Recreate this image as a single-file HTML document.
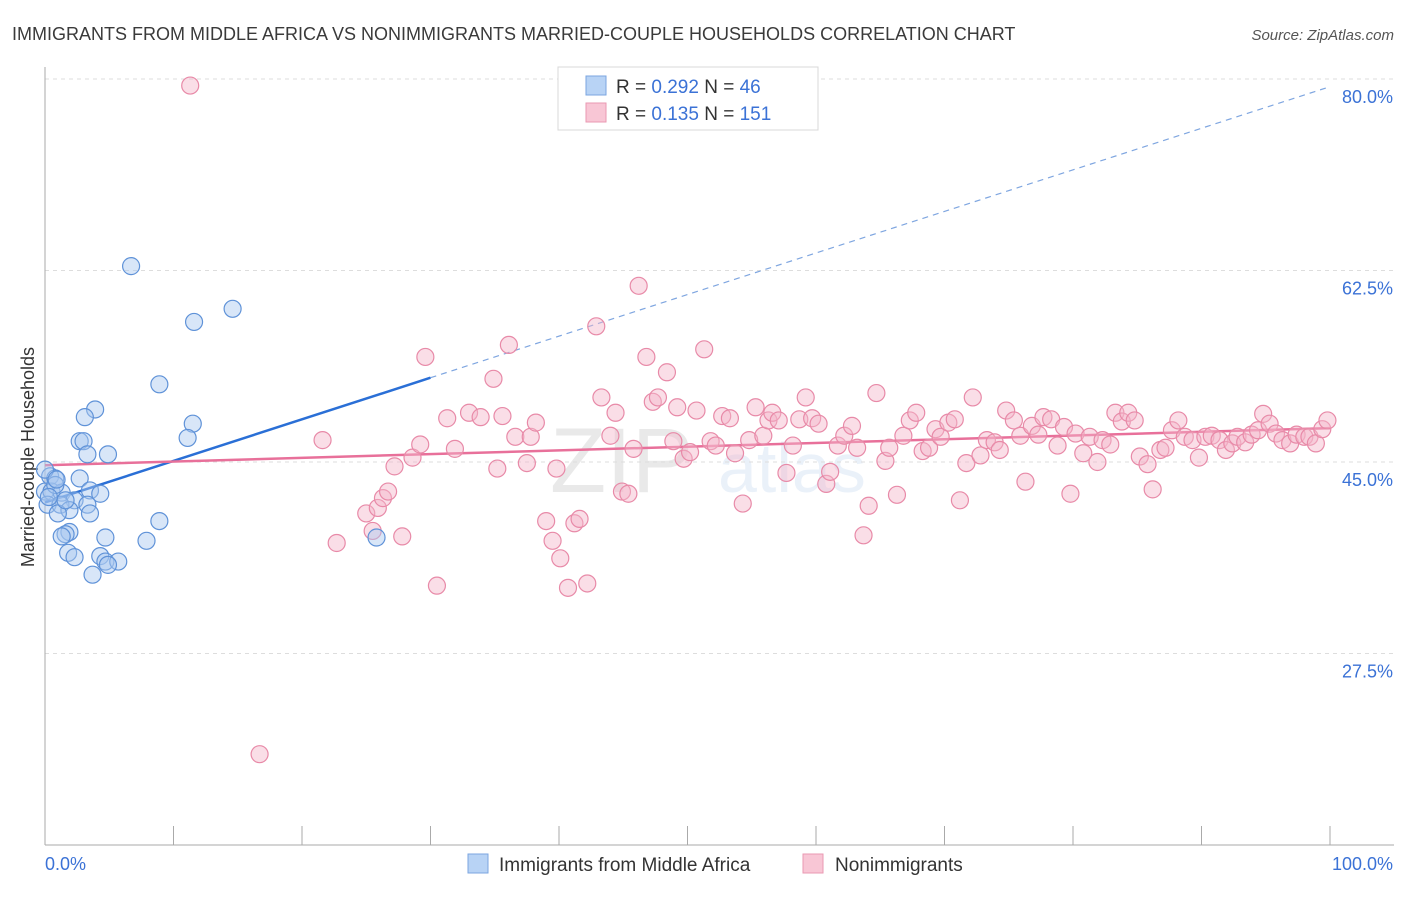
<!DOCTYPE html>
<html><head><meta charset="utf-8"><style>
body{margin:0;background:#fff;font-family:"Liberation Sans",sans-serif;}
svg text{font-family:"Liberation Sans",sans-serif;}
</style></head><body>
<svg id="chart" width="1406" height="892" viewBox="0 0 1406 892" xmlns="http://www.w3.org/2000/svg">
<text x="12" y="40" font-size="18" fill="#3a3a3a">IMMIGRANTS FROM MIDDLE AFRICA VS NONIMMIGRANTS MARRIED-COUPLE HOUSEHOLDS CORRELATION CHART</text>
<text x="1394" y="40" font-size="15" fill="#555" text-anchor="end" font-style="italic">Source: ZipAtlas.com</text>
<text transform="translate(34,457) rotate(-90)" font-size="18" fill="#333" text-anchor="middle">Married-couple Households</text>
<g opacity="0.12"><text x="550" y="492" font-size="92" font-family="Liberation Serif" fill="#555">ZIP</text><text x="718" y="492" font-size="70" fill="#5b8fd6">atlas</text></g>
<g id="grid"></g>
<g id="axes"></g>
<g id="trend"></g>
<g id="pts"></g>
<g>
<rect x="558" y="67" width="260" height="63" fill="#fff" stroke="#d8d8d8"/>
<rect x="586" y="76" width="20" height="19" fill="#b8d3f5" stroke="#7ba6e0"/>
<rect x="586" y="103" width="20" height="19" fill="#f8c6d5" stroke="#ea98b2"/>
<text x="616" y="93" font-size="19" fill="#333">R = <tspan fill="#3b72d6">0.292</tspan>   N = <tspan fill="#3b72d6"> 46</tspan></text>
<text x="616" y="120" font-size="19" fill="#333">R = <tspan fill="#3b72d6"> 0.135</tspan>   N = <tspan fill="#3b72d6">151</tspan></text>
</g>
<g>
<rect x="468" y="854" width="20" height="19" fill="#b8d3f5" stroke="#7ba6e0"/>
<text x="499" y="871" font-size="19" fill="#333">Immigrants from Middle Africa</text>
<rect x="803" y="854" width="20" height="19" fill="#f8c6d5" stroke="#ea98b2"/>
<text x="835" y="871" font-size="19" fill="#333">Nonimmigrants</text>
</g>
</svg>
<script>
const yTicks=[80,62.5,45,27.5];
const yTickLabels=["80.0%","62.5%","45.0%","27.5%"];
const xEndLabels=["0.0%","100.0%"];
const blueX=[6.7,11.6,14.6,8.9,3.9,3.1,11.5,11.1,2.7,3.0,4.9,3.3,0.4,0.8,2.7,3.5,4.3,0,0.5,1.3,2.3,3.3,0.2,1.2,1.9,3.5,1.0,8.9,1.9,1.6,1.3,4.7,7.9,25.8,1.8,2.3,4.3,4.7,5.7,4.9,3.7,0,0.8,1.6,0.9,0.3];
const blueY=[62.9,57.8,59.0,52.1,49.8,49.1,48.5,47.2,46.9,46.9,45.7,45.7,43.7,43.5,43.5,42.4,42.1,42.3,42.3,42.2,41.5,41.1,41.1,41.1,40.6,40.3,40.3,39.6,38.6,38.4,38.2,38.1,37.8,38.1,36.7,36.3,36.4,35.9,35.9,35.6,34.7,44.3,42.9,41.5,43.4,41.8];
const pinkX=[11.3,16.7,21.6,22.7,25.0,25.5,25.9,26.3,26.7,27.2,27.8,28.6,29.2,29.6,30.5,31.3,31.9,33.0,33.9,34.9,35.2,35.6,36.1,36.6,37.5,37.8,38.2,39.0,39.5,39.8,40.1,40.7,41.2,41.6,42.2,42.9,43.3,44.0,44.4,44.9,45.4,45.8,46.2,46.8,47.3,47.7,48.4,48.9,49.2,49.7,50.2,50.7,51.3,51.8,52.2,52.7,53.3,53.7,54.3,54.8,55.3,55.9,56.3,56.6,57.1,57.7,58.2,58.7,59.2,59.7,60.2,60.8,61.1,61.7,62.2,62.8,63.2,63.7,64.1,64.7,65.4,65.7,66.3,66.8,67.3,67.8,68.3,68.8,69.3,69.7,70.3,70.8,71.2,71.7,72.2,72.8,73.3,73.9,74.3,74.8,75.4,75.9,76.3,76.8,77.3,77.7,78.3,78.8,79.3,79.8,80.2,80.8,81.3,81.9,82.3,82.9,83.3,83.8,84.3,84.8,85.2,85.8,86.2,86.8,87.2,87.7,88.2,88.7,89.3,89.8,90.3,90.8,91.4,91.9,92.4,92.8,93.4,93.9,94.4,94.8,95.3,95.8,96.3,96.9,97.4,98.0,98.4,98.9,99.4,99.8];
const pinkY=[79.4,18.3,47.0,37.6,40.3,38.7,40.8,41.7,42.3,44.6,38.2,45.4,46.6,54.6,33.7,49.0,46.2,49.5,49.1,52.6,44.4,49.2,55.7,47.3,44.9,47.3,48.6,39.6,37.8,44.4,36.2,33.5,39.4,39.8,33.9,57.4,50.9,47.4,49.5,42.3,42.1,46.2,61.1,54.6,50.5,50.9,53.2,46.9,50.0,45.3,45.9,49.7,55.3,46.9,46.5,49.2,49.0,45.8,41.2,47.0,50.0,47.4,48.8,49.5,48.8,44.0,46.5,48.9,50.9,49.0,48.5,43.0,44.1,46.5,47.4,48.3,46.3,38.3,41.0,51.3,45.1,46.3,42.0,47.4,48.8,49.5,46.0,46.3,48.0,47.3,48.6,48.9,41.5,44.9,50.9,45.6,47.0,46.8,46.1,49.7,48.8,47.4,43.2,48.3,47.5,49.1,48.9,46.5,48.2,42.1,47.6,45.8,47.3,45.0,47.0,46.6,49.5,48.7,49.5,48.8,45.5,44.8,42.5,46.1,46.3,47.9,48.8,47.3,47.0,45.4,47.3,47.4,47.0,46.1,46.7,47.3,46.8,47.5,47.9,49.4,48.5,47.6,47.0,46.7,47.5,47.3,47.3,46.7,48.0,48.8];
const blueTrend=[41.3,0.38];   // intercept, slope
const blueSolidEnd=30;
const pinkTrend=[44.7,0.034];
const NS="http://www.w3.org/2000/svg";
const X0=45,X1=1330,Ytop=79,Ybase=462;
function sx(v){return X0+(X1-X0)*v/100;}
function sy(v){return Ybase-(v-45)*(Ybase-Ytop)/35;}
function mk(tag,attrs,parent){const e=document.createElementNS(NS,tag);for(const k in attrs)e.setAttribute(k,attrs[k]);parent.appendChild(e);return e;}
const grid=document.getElementById('grid'),axes=document.getElementById('axes'),trend=document.getElementById('trend'),pts=document.getElementById('pts');
yTicks.forEach((t,i)=>{
 const l=mk('line',{x1:X0,x2:1394,y1:sy(t),y2:sy(t),stroke:'#ddd','stroke-dasharray':'4,4'},grid);
 
 
 const tx=mk('text',{x:1393,y:sy(t)+24,'text-anchor':'end','font-size':18,fill:'#3b72d6'},axes);
 tx.textContent=yTickLabels[i];
 
 
});
const ax=mk('line',{x1:X0,x2:1394,y1:845,y2:845,stroke:'#aaa'},axes);


const ay=mk('line',{x1:X0,x2:X0,y1:67,y2:845,stroke:'#aaa'},axes);


for(let i=0;i<=10;i++){
 const t=mk('line',{x1:sx(i*10),x2:sx(i*10),y1:826,y2:845,stroke:'#aaa'},axes);
 
 
}
const xl=mk('text',{x:45,y:870,'font-size':18,fill:'#3b72d6'},axes);xl.textContent=xEndLabels[0];


const xr=mk('text',{x:1393,y:870,'font-size':18,fill:'#3b72d6','text-anchor':'end'},axes);xr.textContent=xEndLabels[1];


function drawPts(xs,ys,fill,stroke,name){xs.forEach((x,i)=>{
 const c=mk('circle',{cx:sx(x),cy:sy(ys[i]),r:8.5,fill:fill,'fill-opacity':0.45,stroke:stroke,'stroke-width':1.2},pts);
 
 
});}
drawPts(pinkX,pinkY,'#f5b6c9','#e88aa8','pink-point');
drawPts(blueX,blueY,'#a9c8f0','#5f92d8','blue-point');
const bl=mk('line',{x1:sx(0),y1:sy(blueTrend[0]),x2:sx(blueSolidEnd),y2:sy(blueTrend[0]+blueTrend[1]*blueSolidEnd),stroke:'#2a6fd6','stroke-width':2.5},trend);


const bd=mk('line',{x1:sx(blueSolidEnd),y1:sy(blueTrend[0]+blueTrend[1]*blueSolidEnd),x2:sx(100),y2:sy(blueTrend[0]+blueTrend[1]*100),stroke:'#7fa6e0','stroke-width':1.2,'stroke-dasharray':'6,5'},trend);


const pl=mk('line',{x1:sx(0),y1:sy(pinkTrend[0]),x2:sx(100),y2:sy(pinkTrend[0]+pinkTrend[1]*100),stroke:'#e8709a','stroke-width':2.5},trend);


</script>
</body></html>
